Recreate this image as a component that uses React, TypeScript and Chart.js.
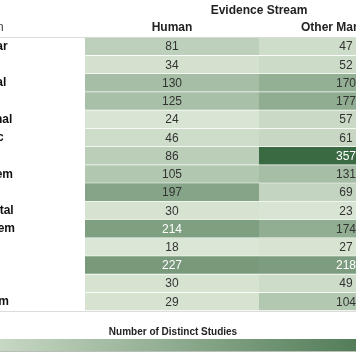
import { useEffect, useRef } from "react";
import { Chart, registerables } from "chart.js";

Chart.register(...registerables);

const outcomes = [
  "Cardiovascular",
  "Dermal",
  "Developmental",
  "Endocrine",
  "Gastrointestinal",
  "Hematopoietic",
  "Hepatic",
  "Immune System",
  "Metabolic",
  "Musculoskeletal",
  "Nervous System",
  "Ocular",
  "Reproductive",
  "Respiratory",
  "Urinary System",
];
const streams = ["Human", "Other Mammals"];
const humanStudies = [81, 34, 130, 125, 24, 46, 86, 105, 197, 30, 214, 18, 227, 30, 29];
const otherMammalStudies = [47, 52, 170, 177, 57, 61, 357, 131, 69, 23, 174, 27, 218, 49, 104];
const rowHeaderLabel = "Health Domain";
const columnGroupTitle = "Evidence Stream";
const colorbarTitle = "Number of Distinct Studies";
const scaleMin = 0;
const scaleMax = 357;

const LOW = [228, 238, 222];
const HIGH = [58, 106, 66];

function colorFor(v: number): string {
  const t = Math.max(0, Math.min(1, (v - scaleMin) / (scaleMax - scaleMin)));
  const c = LOW.map((l, i) => Math.round(l + (HIGH[i] - l) * t));
  return `rgb(${c[0]},${c[1]},${c[2]})`;
}

const CANVAS_W = 560;
const CANVAS_H = 364;
const OFFSET = 100;
const TABLE_LEFT = 11;
const AREA_LEFT = 185;
const AREA_RIGHT = 533;

export default function App() {
  const ref = useRef<HTMLCanvasElement | null>(null);

  useEffect(() => {
    const canvas = ref.current;
    if (!canvas) return;
    const seriesValues = [humanStudies, otherMammalStudies];

    const tablePlugin = {
      id: "tableDecor",
      beforeDatasetsDraw(chart: any) {
        const { ctx, chartArea } = chart;
        ctx.save();
        ctx.strokeStyle = "#dcdcdc";
        ctx.lineWidth = 1;
        ctx.beginPath();
        ctx.moveTo(TABLE_LEFT, Math.round(chartArea.top) - 0.5);
        ctx.lineTo(chartArea.right, Math.round(chartArea.top) - 0.5);
        ctx.moveTo(TABLE_LEFT, Math.round(chartArea.bottom) + 0.5);
        ctx.lineTo(chartArea.right, Math.round(chartArea.bottom) + 0.5);
        ctx.stroke();
        ctx.fillStyle = "#444";
        ctx.font = "12.5px Arial, 'Liberation Sans', sans-serif";
        ctx.textAlign = "left";
        ctx.textBaseline = "middle";
        ctx.fillText(rowHeaderLabel, chart.scales.y.left, 28);
        ctx.restore();
      },
      afterDatasetsDraw(chart: any) {
        const { ctx } = chart;
        ctx.save();
        ctx.font = "12px Arial, 'Liberation Sans', sans-serif";
        ctx.textAlign = "center";
        ctx.textBaseline = "middle";
        chart.data.datasets.forEach((ds: any, di: number) => {
          const meta = chart.getDatasetMeta(di);
          meta.data.forEach((el: any, i: number) => {
            const v = seriesValues[di][i];
            ctx.fillStyle = v > 200 ? "#ffffff" : "#333333";
            ctx.fillText(String(v), (el.x + el.base) / 2, el.y + 0.5);
          });
        });
        ctx.restore();
      },
      afterDraw(chart: any) {
        const { ctx, chartArea } = chart;
        const x0 = TABLE_LEFT;
        const x1 = chartArea.right;
        const y0 = 339;
        const h = 12;
        ctx.save();
        ctx.fillStyle = "#222";
        ctx.font = "bold 10px Arial, 'Liberation Sans', sans-serif";
        ctx.textAlign = "center";
        ctx.textBaseline = "middle";
        ctx.fillText(colorbarTitle, (x0 + x1) / 2 + 1, 332);
        const grad = ctx.createLinearGradient(x0, 0, x1, 0);
        const steps = 10;
        for (let s = 0; s <= steps; s++) {
          grad.addColorStop(s / steps, colorFor(scaleMin + ((scaleMax - scaleMin) * s) / steps));
        }
        ctx.fillStyle = grad;
        ctx.fillRect(x0, y0, x1 - x0, h);
        ctx.strokeStyle = "#b8bfb6";
        ctx.lineWidth = 1;
        ctx.beginPath();
        ctx.moveTo(x0, y0 + h + 0.5);
        ctx.lineTo(x1, y0 + h + 0.5);
        ctx.stroke();
        ctx.restore();
      },
    };

    const chart = new Chart(canvas, {
      type: "bar",
      data: {
        labels: outcomes,
        datasets: streams.map((name, si) => ({
          label: name,
          data: seriesValues[si].map(() => [si, si + 1]),
          backgroundColor: seriesValues[si].map((v) => colorFor(v)),
          borderColor: "rgba(255,255,255,0.45)",
          borderWidth: { top: 0, left: 0, right: 0, bottom: 1 },
          borderSkipped: false,
          grouped: false,
          barPercentage: 1,
          categoryPercentage: 1,
        })) as any,
      },
      options: {
        indexAxis: "y",
        animation: false,
        responsive: false,
        devicePixelRatio: 1,
        layout: { padding: { left: 21, right: CANVAS_W - AREA_RIGHT, top: 0, bottom: CANVAS_H - 311 } },
        plugins: {
          legend: { display: false },
          tooltip: { enabled: false },
          title: {
            display: true,
            text: columnGroupTitle,
            fullSize: false,
            color: "#222",
            font: { family: "Arial, 'Liberation Sans', sans-serif", size: 12, weight: "bold" },
            padding: { top: 3, bottom: 0 },
          },
        },
        scales: {
          x: { type: "linear", min: 0, max: streams.length, display: false },
          x2: {
            type: "category",
            labels: streams,
            position: "top",
            offset: true,
            grid: { display: false, drawTicks: false },
            border: { display: false },
            ticks: {
              color: "#222",
              padding: 3,
              maxRotation: 0,
              autoSkip: false,
              font: { family: "Arial, 'Liberation Sans', sans-serif", size: 12, weight: "bold" },
            },
            afterFit(scale: any) {
              scale.height = 20.1;
            },
          },
          y: {
            type: "category",
            position: "left",
            grid: { display: false, drawTicks: false },
            border: { display: false },
            ticks: {
              crossAlign: "far",
              padding: 0,
              autoSkip: false,
              color: "#111",
              font: { family: "Arial, 'Liberation Sans', sans-serif", size: 12, weight: "bold" },
            },
            afterFit(scale: any) {
              scale.width = AREA_LEFT - 21;
            },
          },
        },
      } as any,
      plugins: [tablePlugin],
    });

    return () => chart.destroy();
  }, []);

  return (
    <div
      style={{
        position: "fixed",
        left: 0,
        top: 0,
        width: 356,
        height: 364,
        overflow: "hidden",
        background: "#fff",
      }}
    >
      <canvas
        ref={ref}
        width={CANVAS_W}
        height={CANVAS_H}
        style={{ position: "absolute", left: -OFFSET, top: 0, width: CANVAS_W, height: CANVAS_H }}
      />
    </div>
  );
}
